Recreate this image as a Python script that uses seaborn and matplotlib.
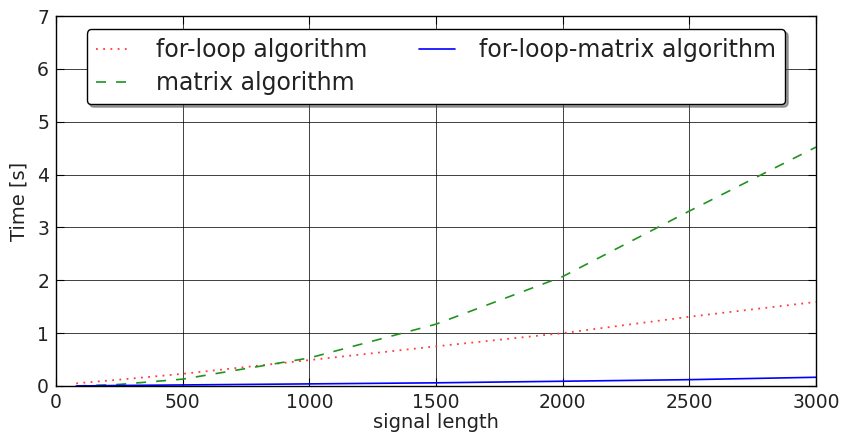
import matplotlib
matplotlib.use("Agg")
import matplotlib.pyplot as plt
import seaborn as sns
import pandas as pd

# signal lengths and measured run times [s]
signal_length = [80, 250, 500, 1000, 1500, 2000, 2500, 3000]
t_for_loop = [0.05, 0.12, 0.23, 0.49, 0.75, 1.00, 1.31, 1.59]
t_matrix = [0.00, 0.03, 0.13, 0.53, 1.17, 2.07, 3.31, 4.52]
t_for_loop_matrix = [0.00, 0.01, 0.02, 0.04, 0.06, 0.09, 0.12, 0.165]

series_names = ["for-loop algorithm", "matrix algorithm", "for-loop-matrix algorithm"]
x_ticks = [0, 500, 1000, 1500, 2000, 2500, 3000]
y_ticks = [0, 1, 2, 3, 4, 5, 6, 7]

sns.set_theme(style="white")
plt.rcParams["font.family"] = ["DejaVu Sans"]

df = pd.DataFrame({
    "signal length": signal_length * 3,
    "Time [s]": t_for_loop + t_matrix + t_for_loop_matrix,
    "algorithm": [series_names[0]] * len(signal_length)
    + [series_names[1]] * len(signal_length)
    + [series_names[2]] * len(signal_length),
})

fig = plt.figure(figsize=(8.43, 4.42), dpi=100)
ax = fig.add_axes([0.0664, 0.1267, 0.9016, 0.8371])

styles = {
    series_names[0]: dict(color="#ff3b3b", ls=(0, (1, 3)), lw=1.3),
    series_names[1]: dict(color="#1f941f", ls=(0, (6, 6)), lw=1.2),
    series_names[2]: dict(color="#0000ff", ls="-", lw=1.2),
}
for name in series_names:
    sub = df[df["algorithm"] == name]
    sns.lineplot(data=sub, x="signal length", y="Time [s]", ax=ax,
                 color=styles[name]["color"], linestyle=styles[name]["ls"],
                 linewidth=styles[name]["lw"], label=name, estimator=None, sort=False)

ax.set_xlim(0, 3000)
ax.set_ylim(0, 7)
ax.set_xticks(x_ticks)
ax.set_yticks(y_ticks)
ax.grid(True, color="black", linewidth=0.7, linestyle="-", alpha=0.75)
ax.set_axisbelow(True)
for sp in ax.spines.values():
    sp.set_color("black")
    sp.set_linewidth(1.0)
    sp.set_visible(True)
ax.tick_params(axis="both", direction="in", length=6, width=0.8, colors="black",
               labelsize=13.5, top=True, right=True, bottom=True, left=True, pad=5)
for lab in ax.get_xticklabels() + ax.get_yticklabels():
    lab.set_color("#222222")
ax.set_xlabel("signal length", fontsize=14, labelpad=1, color="#222222")
ax.set_ylabel("Time [s]", fontsize=14, labelpad=6, color="#222222")

leg = ax.legend(loc="upper center", ncol=2, fontsize=17, frameon=True,
                fancybox=True, shadow=True, bbox_to_anchor=(0.5, 0.965),
                borderaxespad=0.0,
                handlelength=1.5, handletextpad=1.05, columnspacing=2.2,
                borderpad=0.38, labelspacing=0.4)
leg.get_frame().set_edgecolor("black")
leg.get_frame().set_linewidth(1.0)
leg.get_frame().set_facecolor("white")
leg.get_frame().set_alpha(1.0)
for t in leg.get_texts():
    t.set_color("#222222")

fig.savefig("out.png", dpi=100)
